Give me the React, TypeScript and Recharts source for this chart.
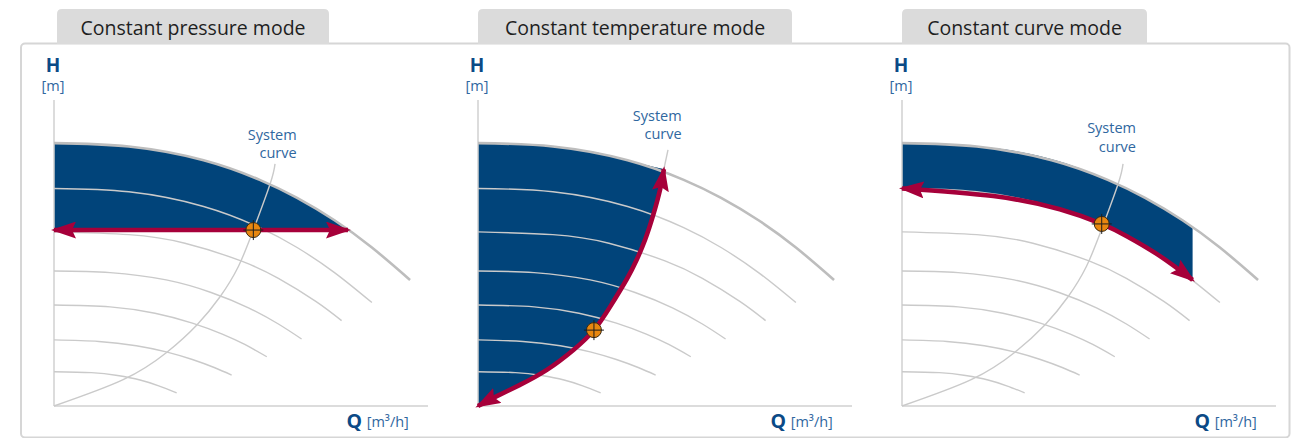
import React from 'react'
import { ComposedChart, Line, Area, Scatter, XAxis, YAxis, ReferenceLine } from 'recharts'

type Pt = { q: number; h: number }
type Band = { q: number; lo: number; hi: number }

const BLUE = '#01447a'
const RED = '#a6003a'
const ORANGE = '#e8870f'
const GRID = '#cacaca'
const TOP = '#bdbdbd'
const AXIS = '#d0d0d0'
const DARK_BLUE = '#0b4a86'
const LABEL_BLUE = '#2f67a0'

const panelTitles = ['Constant pressure mode', 'Constant temperature mode', 'Constant curve mode']

// pump curves, Q and H as % of axis length, max speed first
const curveMax: Pt[] = [
  { q: 0, h: 85.9 }, { q: 20, h: 84.8 }, { q: 40, h: 80.3 }, { q: 55, h: 73.9 },
  { q: 65, h: 68.0 }, { q: 75, h: 60.7 }, { q: 85, h: 51.8 }, { q: 95.2, h: 41.2 },
]
const curve2: Pt[] = [
  { q: 0, h: 71.1 }, { q: 20, h: 70.0 }, { q: 40, h: 65.2 }, { q: 55, h: 58.3 },
  { q: 65, h: 51.8 }, { q: 75, h: 43.6 }, { q: 85, h: 33.8 },
]
const curve3: Pt[] = [
  { q: 0, h: 56.9 }, { q: 20, h: 56.0 }, { q: 35, h: 53.2 }, { q: 50, h: 47.4 },
  { q: 60, h: 41.7 }, { q: 70, h: 34.2 }, { q: 76.9, h: 27.9 },
]
const curve4: Pt[] = [
  { q: 0, h: 44.1 }, { q: 15, h: 43.6 }, { q: 30, h: 41.2 }, { q: 42, h: 37.1 },
  { q: 52, h: 32.1 }, { q: 60, h: 26.8 }, { q: 66.2, h: 21.9 },
]
const curve5: Pt[] = [
  { q: 0, h: 33.0 }, { q: 15, h: 32.4 }, { q: 27, h: 30.3 }, { q: 37, h: 27.1 },
  { q: 45, h: 23.5 }, { q: 51, h: 20.1 }, { q: 56.9, h: 16.1 },
]
const curve6: Pt[] = [
  { q: 0, h: 21.6 }, { q: 12, h: 21.1 }, { q: 22, h: 19.7 }, { q: 30, h: 17.7 },
  { q: 37, h: 15.2 }, { q: 43, h: 12.5 }, { q: 47.5, h: 10.1 },
]
const curve7: Pt[] = [
  { q: 0, h: 11.2 }, { q: 10, h: 10.9 }, { q: 17, h: 9.95 }, { q: 23, h: 8.5 },
  { q: 28, h: 6.6 }, { q: 32.8, h: 4.3 },
]
const lowerCurves = [curve2, curve3, curve4, curve5, curve6, curve7]

const systemCurve: Pt[] = [
  { q: 0, h: 0 }, { q: 18.5, h: 8.6 }, { q: 30.1, h: 17.5 }, { q: 38.2, h: 26.5 },
  { q: 44.4, h: 35.7 }, { q: 49.3, h: 45.6 }, { q: 53.3, h: 57.5 }, { q: 57.8, h: 72.6 },
  { q: 59.1, h: 79.1 },
]

// control lines (red arrows)
const pressureLine: Pt[] = [{ q: 0, h: 57.5 }, { q: 78.6, h: 57.5 }]
const tempLine: Pt[] = [
  { q: 0, h: 0 }, { q: 4.5, h: 2.9 }, { q: 11.2, h: 6.9 }, { q: 18.4, h: 11.8 },
  { q: 25.5, h: 18.3 }, { q: 31.0, h: 24.8 }, { q: 35.3, h: 32.4 }, { q: 39.8, h: 41.5 },
  { q: 42.4, h: 47.7 }, { q: 44.7, h: 54.4 }, { q: 46.9, h: 62.6 }, { q: 48.7, h: 70.8 },
  { q: 49.7, h: 77.4 },
]
const tempSystemTop: Pt[] = [{ q: 49.7, h: 77.4 }, { q: 50.8, h: 83.7 }]
const curveLine: Pt[] = [
  { q: 0, h: 71.1 }, { q: 24.4, h: 68.6 }, { q: 42.2, h: 64.3 }, { q: 53.4, h: 59.5 },
  { q: 60.1, h: 55.5 }, { q: 69.0, h: 49.0 }, { q: 77.7, h: 41.2 },
]

// blue operating ranges
const pressureBand: Band[] = [
  { q: 0, lo: 57.5, hi: 85.9 }, { q: 20, lo: 57.5, hi: 84.8 }, { q: 40, lo: 57.5, hi: 80.3 },
  { q: 55, lo: 57.5, hi: 73.9 }, { q: 65, lo: 57.5, hi: 68.0 }, { q: 75, lo: 57.5, hi: 60.7 },
  { q: 78.6, lo: 57.5, hi: 57.5 },
]
const tempBand: Band[] = [
  { q: 0, lo: 0, hi: 85.9 }, { q: 4.5, lo: 2.9, hi: 85.8 }, { q: 11.2, lo: 6.9, hi: 85.6 },
  { q: 18.4, lo: 11.8, hi: 85.1 }, { q: 25.5, lo: 18.3, hi: 84.0 }, { q: 31.0, lo: 24.8, hi: 83.0 },
  { q: 35.3, lo: 32.4, hi: 81.8 }, { q: 39.8, lo: 41.5, hi: 80.5 }, { q: 42.4, lo: 47.7, hi: 79.6 },
  { q: 44.7, lo: 54.4, hi: 78.8 }, { q: 46.9, lo: 62.6, hi: 78.2 }, { q: 48.7, lo: 70.8, hi: 77.7 },
  { q: 49.7, lo: 77.4, hi: 77.4 },
]
const curveBand: Band[] = [
  { q: 0, lo: 71.1, hi: 85.9 }, { q: 24.4, lo: 68.6, hi: 84.3 }, { q: 42.2, lo: 64.3, hi: 79.9 },
  { q: 53.4, lo: 59.5, hi: 74.7 }, { q: 60.1, lo: 55.5, hi: 71.0 }, { q: 69.0, lo: 49.0, hi: 65.2 },
  { q: 77.7, lo: 41.2, hi: 58.3 },
]

const opPoints: Pt[] = [{ q: 53.3, h: 57.5 }, { q: 31.0, h: 24.8 }, { q: 53.4, h: 59.5 }]

// layout of the three panels
const axisX = [54, 478, 902]
const tabX = [57, 478, 902]
const tabW = [272, 314, 245]
const sysLabelX = [296.7, 681.7, 1136]
const sysLabelY = [140, 120.7, 133.3]

const OpMarker = (props: any) => {
  const { cx, cy } = props
  if (cx == null || cy == null) return null
  return (
    <g>
      <circle cx={cx} cy={cy} r={7.5} fill={ORANGE} stroke="#3b2a12" strokeWidth={1} />
      <line x1={cx - 10} x2={cx + 10} y1={cy} y2={cy} stroke="#1d1d1d" strokeWidth={1} />
      <line x1={cx} x2={cx} y1={cy - 10} y2={cy + 10} stroke="#1d1d1d" strokeWidth={1} />
    </g>
  )
}

function Panel({ i }: { i: number }) {
  const band = [pressureBand, tempBand, curveBand][i]
  const control = [pressureLine, tempLine, curveLine][i]
  const data = band.map((b) => ({ q: b.q, r: [b.lo, b.hi] }))
  const mid = `arrow${i}`

  return (
    <div style={{ position: 'absolute', left: axisX[i] - 54, top: 0 }}>
      <ComposedChart
        width={440}
        height={438}
        data={data}
        margin={{ top: 100, right: 12, bottom: 32, left: 54 }}
      >
        <defs>
          <marker
            id={mid}
            markerUnits="userSpaceOnUse"
            markerWidth={25}
            markerHeight={17}
            viewBox="0 0 25 17"
            refX={22}
            refY={8.5}
            orient="auto-start-reverse"
          >
            <path d="M0,0 L25,8.5 L0,17 L4,8.5 Z" fill={RED} />
          </marker>
        </defs>
        <XAxis type="number" dataKey="q" domain={[0, 100]} hide />
        <YAxis type="number" domain={[0, 100]} hide />
        <ReferenceLine x={0} stroke={AXIS} strokeWidth={1.5} />
        <ReferenceLine y={0} stroke={AXIS} strokeWidth={1.5} />
        <Area
          type="natural"
          dataKey="r"
          stroke="none"
          fill={BLUE}
          fillOpacity={1}
          isAnimationActive={false}
        />
        {lowerCurves.map((c, k) => (
          <Line
            key={k}
            data={c}
            dataKey="h"
            type="natural"
            stroke={GRID}
            strokeWidth={1.4}
            dot={false}
            activeDot={false}
            isAnimationActive={false}
          />
        ))}
        <Line
          data={i === 1 ? tempSystemTop : systemCurve}
          dataKey="h"
          type="natural"
          stroke={GRID}
          strokeWidth={1.4}
          dot={false}
          activeDot={false}
          isAnimationActive={false}
        />
        <Line
          data={curveMax}
          dataKey="h"
          type="natural"
          stroke={TOP}
          strokeWidth={2.6}
          dot={false}
          activeDot={false}
          isAnimationActive={false}
        />
        <Line
          data={control}
          dataKey="h"
          type="natural"
          stroke={RED}
          strokeWidth={4.6}
          dot={false}
          activeDot={false}
          markerStart={`url(#${mid})`}
          markerEnd={`url(#${mid})`}
          isAnimationActive={false}
        />
        <Scatter data={[opPoints[i]]} dataKey="h" shape={OpMarker} isAnimationActive={false} />
      </ComposedChart>
    </div>
  )
}

export default function App() {
  const font = '"Open Sans", "Noto Sans", sans-serif'
  return (
    <div
      style={{
        position: 'absolute',
        left: 0,
        top: 0,
        width: 1300,
        height: 438,
        background: '#fff',
        overflow: 'hidden',
        fontFamily: font,
      }}
    >
      <svg width={1300} height={438} style={{ position: 'absolute', left: 0, top: 0 }}>
        <rect x={21} y={43.5} width={1268.5} height={394} rx={4} fill="#fff" stroke="#d6d6d6" strokeWidth={2} />
        {tabX.map((x, i) => (
          <path
            key={i}
            d={`M${x},44 L${x},14 Q${x},9 ${x + 5},9 L${x + tabW[i] - 5},9 Q${x + tabW[i]},9 ${x + tabW[i]},14 L${x + tabW[i]},44 Z`}
            fill="#dbdbdb"
          />
        ))}
      </svg>

      {[0, 1, 2].map((i) => (
        <Panel key={i} i={i} />
      ))}

      <svg
        width={1300}
        height={438}
        style={{ position: 'absolute', left: 0, top: 0, pointerEvents: 'none' }}
        fontFamily={font}
      >
        {panelTitles.map((t, i) => (
          <text key={t} x={tabX[i] + tabW[i] / 2} y={35} textAnchor="middle" fontSize={19.5} fill="#1f1f1f">
            {t}
          </text>
        ))}
        {axisX.map((ax, i) => (
          <g key={i}>
            <text x={ax - 1} y={71.5} textAnchor="middle" fontSize={19} fontWeight={700} fill={DARK_BLUE}>
              H
            </text>
            <text x={ax - 1} y={91} textAnchor="middle" fontSize={14.5} fill={LABEL_BLUE}>
              [m]
            </text>
            <text x={ax + 292.5} y={427.5} fontSize={19.5} fontWeight={700} fill={DARK_BLUE}>
              Q
            </text>
            <text x={ax + 312.7} y={427} fontSize={14.5} fill={LABEL_BLUE}>
              [m³/h]
            </text>
            <text x={sysLabelX[i]} y={sysLabelY[i]} textAnchor="end" fontSize={14.5} fill={LABEL_BLUE}>
              System
            </text>
            <text x={sysLabelX[i]} y={sysLabelY[i] + 18.3} textAnchor="end" fontSize={14.5} fill={LABEL_BLUE}>
              curve
            </text>
          </g>
        ))}
      </svg>
    </div>
  )
}
